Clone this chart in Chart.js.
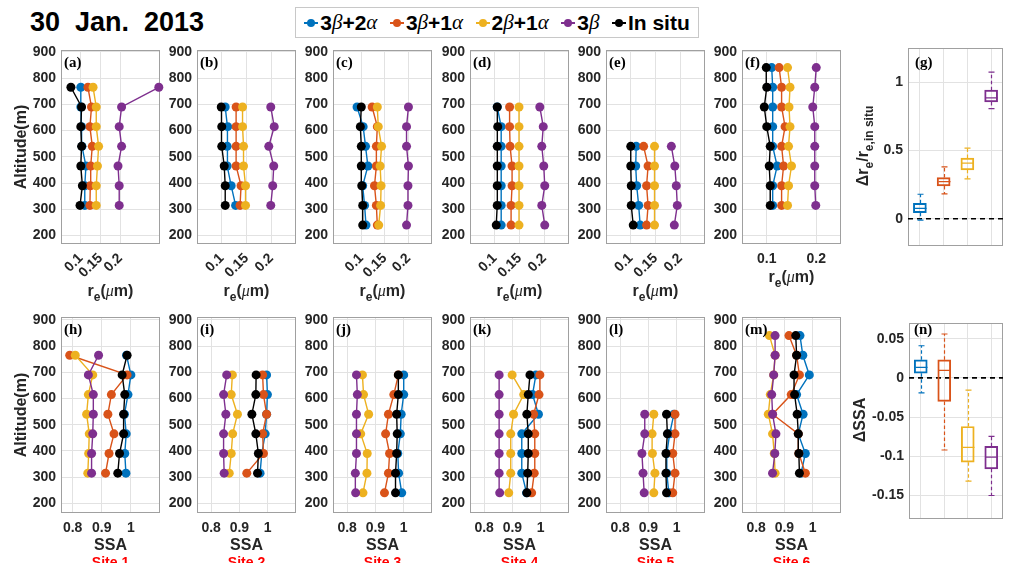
<!DOCTYPE html>
<html>
<head>
<meta charset="utf-8">
<script src="https://cdn.jsdelivr.net/npm/chart.js@4.4.1/dist/chart.umd.min.js"></script>
<style>
  body { margin: 0; width: 1009px; height: 563px; background: #fff; position: relative; overflow: hidden;
         font-family: "Liberation Sans", Arial, sans-serif; }
  canvas { position: absolute; }
  .txt { position: absolute; white-space: nowrap; font-weight: bold; color: #262626; line-height: 1; }
  .ctr { transform: translate(-50%, -50%); }
  .rot { transform: translate(-50%, -50%) rotate(-90deg); }
  .letter { font-family: "Liberation Serif", "Times New Roman", serif; font-size: 15px; color: #000; }
  .site { color: #ff0000; font-size: 14px; }
  .gk { font-family: "Liberation Serif", serif; font-style: italic; font-weight: normal; }
  #title { left: 30px; top: 9px; font-size: 27px; color: #000; }
  #legend { position: absolute; left: 295px; top: 7px; width: 404px; height: 31px; border: 1px solid #c8c8c8;
            display: flex; align-items: center; justify-content: space-around; font-weight: bold;
            font-size: 21px; color: #000; box-sizing: border-box; padding: 0 2px; }
  .item { display: flex; align-items: center; }
  .mk { position: relative; width: 14px; height: 10px; margin-right: 2px; }
  .mk::before { content: ""; position: absolute; left: 0; right: 0; top: 4px; height: 2px; background: var(--c); }
  .mk::after { content: ""; position: absolute; left: 3px; top: 1px; width: 8px; height: 8px; border-radius: 50%; background: var(--c); }
</style>
</head>
<body>
<div class="txt" id="title">30&nbsp; Jan.&nbsp; 2013</div>
<div id="legend"></div>
<script>
// series shared by every panel
const seriesNames = ['3β+2α', '3β+1α', '2β+1α', '3β', 'In situ'];
const seriesColors = ['#0072BD', '#D95319', '#EDB120', '#7E2F8E', '#000000'];

// altitude levels (m) per site
const alt1 = [315, 390, 465, 540, 615, 690, 765];
const alt2 = [315, 390, 465, 540, 615, 690];
const alt3 = [240, 315, 390, 465, 540, 615, 690];
const alt4 = [240, 315, 390, 465, 540, 615, 690];
const alt5 = [240, 315, 390, 465, 540];
const alt6 = [315, 390, 465, 540, 615, 690, 765, 840];

// effective radius (um), rows in seriesNames order
const re1 = [
  [0.110, 0.110, 0.113, 0.103, 0.102, 0.100, 0.100],
  [0.123, 0.124, 0.125, 0.129, 0.123, 0.127, 0.118],
  [0.139, 0.139, 0.142, 0.145, 0.139, 0.139, 0.131],
  [0.197, 0.197, 0.194, 0.203, 0.197, 0.203, 0.297],
  [0.098, 0.104, 0.100, 0.102, 0.100, 0.102, 0.075]
];
const re2 = [
  [0.128, 0.119, 0.111, 0.111, 0.112, 0.107],
  [0.137, 0.139, 0.129, 0.129, 0.129, 0.129],
  [0.148, 0.148, 0.144, 0.144, 0.142, 0.142],
  [0.199, 0.203, 0.205, 0.195, 0.206, 0.199],
  [0.107, 0.107, 0.105, 0.100, 0.100, 0.099]
];
const re3 = [
  [0.110, 0.107, 0.103, 0.114, 0.109, 0.104, 0.091],
  [0.134, 0.132, 0.128, 0.132, 0.132, 0.134, 0.123],
  [0.137, 0.141, 0.142, 0.140, 0.143, 0.136, 0.134],
  [0.196, 0.199, 0.199, 0.200, 0.196, 0.196, 0.200],
  [0.103, 0.103, 0.101, 0.100, 0.100, 0.098, 0.100]
];
const re4 = [
  [0.113, 0.113, 0.113, 0.113, 0.113, 0.113, 0.105],
  [0.133, 0.133, 0.135, 0.135, 0.131, 0.130, 0.130],
  [0.149, 0.149, 0.149, 0.149, 0.149, 0.149, 0.149],
  [0.201, 0.195, 0.201, 0.199, 0.195, 0.198, 0.191],
  [0.103, 0.105, 0.105, 0.105, 0.105, 0.106, 0.105]
];
const re5 = [
  [0.119, 0.116, 0.112, 0.110, 0.111],
  [0.132, 0.135, 0.132, 0.135, 0.126],
  [0.148, 0.148, 0.148, 0.148, 0.148],
  [0.188, 0.194, 0.192, 0.189, 0.182],
  [0.105, 0.101, 0.101, 0.100, 0.100]
];
const re6 = [
  [0.112, 0.112, 0.121, 0.112, 0.112, 0.112, 0.112, 0.110],
  [0.130, 0.130, 0.134, 0.130, 0.137, 0.130, 0.130, 0.125],
  [0.142, 0.144, 0.150, 0.144, 0.147, 0.145, 0.147, 0.142],
  [0.199, 0.197, 0.197, 0.197, 0.197, 0.193, 0.197, 0.200],
  [0.107, 0.107, 0.105, 0.107, 0.100, 0.095, 0.100, 0.099]
];

// single scattering albedo, rows in seriesNames order
const ssa1 = [
  [0.983, 0.979, 0.984, 0.978, 0.990, 1.000, 0.985],
  [0.913, 0.925, 0.942, 0.921, 0.933, 0.987, 0.790],
  [0.852, 0.855, 0.857, 0.848, 0.854, 0.869, 0.809],
  [0.865, 0.865, 0.869, 0.871, 0.871, 0.854, 0.889],
  [0.955, 0.961, 0.975, 0.975, 0.979, 0.970, 0.987]
];
const ssa2 = [
  [0.973, 0.979, 0.991, 0.996, 0.999, 0.996],
  [0.926, 0.985, 0.982, 0.996, 0.985, 0.982],
  [0.864, 0.871, 0.876, 0.893, 0.871, 0.875],
  [0.846, 0.844, 0.844, 0.852, 0.844, 0.855],
  [0.964, 0.967, 0.958, 0.944, 0.958, 0.959]
];
const ssa3 = [
  [0.993, 0.982, 0.979, 0.988, 0.991, 1.000, 1.000],
  [0.932, 0.946, 0.950, 0.936, 0.946, 0.965, 0.981],
  [0.856, 0.870, 0.871, 0.848, 0.876, 0.858, 0.854],
  [0.830, 0.829, 0.833, 0.833, 0.833, 0.836, 0.833],
  [0.971, 0.971, 0.975, 0.977, 0.975, 0.981, 0.981]
];
const ssa4 = [
  [0.950, 0.933, 0.933, 0.933, 0.992, 0.971, 0.983],
  [0.968, 0.977, 0.979, 0.979, 0.975, 0.994, 0.997],
  [0.887, 0.894, 0.894, 0.894, 0.904, 0.940, 0.899],
  [0.855, 0.853, 0.853, 0.853, 0.853, 0.853, 0.853],
  [0.951, 0.954, 0.956, 0.956, 0.951, 0.956, 0.962]
];
const ssa5 = [
  [0.972, 0.965, 0.965, 0.975, 0.990],
  [0.986, 0.994, 0.986, 0.994, 0.994],
  [0.919, 0.923, 0.914, 0.913, 0.919],
  [0.885, 0.881, 0.877, 0.887, 0.887],
  [0.964, 0.962, 0.962, 0.967, 0.964]
];
const ssa6 = [
  [0.959, 0.974, 0.949, 0.966, 0.943, 0.988, 0.965, 0.955],
  [0.974, 0.951, 0.949, 0.858, 0.924, 0.953, 0.943, 0.916],
  [0.867, 0.864, 0.858, 0.843, 0.850, 0.862, 0.867, 0.847],
  [0.858, 0.866, 0.870, 0.858, 0.855, 0.862, 0.867, 0.867],
  [0.953, 0.951, 0.949, 0.945, 0.936, 0.934, 0.943, 0.940]
];

// box statistics of the relative re difference, one entry per retrieval
const reBoxLow  = [-0.010, 0.181, 0.292, 0.806];
const reBoxQ1   = [0.044, 0.240, 0.358, 0.855];
const reBoxMed  = [0.076, 0.272, 0.407, 0.885];
const reBoxQ3   = [0.113, 0.301, 0.444, 0.941];
const reBoxHigh = [0.179, 0.380, 0.517, 1.074];

// box statistics of the SSA difference
const ssaBoxLow  = [-0.019, -0.092, -0.1316, -0.150];
const ssaBoxQ1   = [0.006, -0.030, -0.1076, -0.116];
const ssaBoxMed  = [0.0135, 0.0097, -0.0886, -0.101];
const ssaBoxQ3   = [0.023, 0.023, -0.062, -0.0873];
const ssaBoxHigh = [0.041, 0.056, -0.0156, -0.0747];

// tick labels
const altTicks = [200, 300, 400, 500, 600, 700, 800, 900];
const reTicks = [0.1, 0.15, 0.2];
const reTicksWide = [0.1, 0.2];
const ssaTicks = [0.8, 0.9, 1];
const reBoxTicks = [0, 0.5, 1];
const ssaBoxTicks = [-0.15, -0.1, -0.05, 0, 0.05];

// ---- layout ----
const PADL = 58, PADT = 8, PADR = 8, PADB = 72;
const colLeft = [61, 197, 333, 470, 606, 742];
const PW = 99;
const topRow = {top: 50, h: 194, min: 168, max: 907};
const botRow = {top: 317, h: 196, min: 163, max: 911};

const tickFont = {family: 'Liberation Sans', size: 14, weight: 'bold'};
const gridOpts = {color: '#e2e2e2', lineWidth: 1, drawTicks: false};

function addCanvas(left, top, w, h) {
  const c = document.createElement('canvas');
  c.width = PADL + w + PADR;
  c.height = PADT + h + PADB;
  c.style.left = (left - PADL) + 'px';
  c.style.top = (top - PADT) + 'px';
  document.body.appendChild(c);
  return c;
}

function addText(html, x, y, cls) {
  const d = document.createElement('div');
  d.className = 'txt ' + cls;
  d.style.left = x + 'px';
  d.style.top = y + 'px';
  d.innerHTML = html;
  document.body.appendChild(d);
  return d;
}

// axes box around the plot area
const frame = {
  id: 'frame',
  beforeDatasetsDraw(chart) {
    const a = chart.chartArea, ctx = chart.ctx;
    ctx.save();
    ctx.strokeStyle = '#a0a0a0';
    ctx.lineWidth = 1;
    ctx.strokeRect(Math.round(a.left) + 0.5, Math.round(a.top) + 0.5,
                   Math.round(a.right - a.left) - 1, Math.round(a.bottom - a.top) - 1);
    ctx.restore();
  }
};

function fixedTicks(list) {
  return s => { s.ticks = list.map(v => ({value: v})); };
}

function yAxis(min, max, ticks) {
  return {
    type: 'linear', min: min, max: max,
    afterBuildTicks: fixedTicks(ticks),
    afterFit: s => { s.width = PADL; s.paddingTop = 0; s.paddingBottom = 0; },
    grid: gridOpts, border: {display: false},
    ticks: {font: tickFont, color: '#262626', padding: 5, autoSkip: false, callback: v => String(v)}
  };
}

function profileChart(left, row, alts, values, xMin, xMax, xTicks, rot) {
  const canvas = addCanvas(left, row.top, PW, row.h);
  new Chart(canvas, {
    type: 'scatter',
    data: {
      datasets: values.map((vals, i) => ({
        label: seriesNames[i],
        data: vals.map((v, k) => ({x: v, y: alts[k]})),
        showLine: true,
        borderColor: seriesColors[i],
        backgroundColor: seriesColors[i],
        borderWidth: 1.4,
        pointRadius: 4.5,
        pointHoverRadius: 4.5,
        pointBorderWidth: 0,
        order: values.length - i,
        clip: false
      }))
    },
    options: {
      responsive: false, animation: false, events: [],
      layout: {padding: {left: 0, top: PADT, right: PADR, bottom: 0}},
      plugins: {legend: {display: false}, tooltip: {enabled: false}},
      scales: {
        x: {
          type: 'linear', min: xMin, max: xMax,
          afterBuildTicks: fixedTicks(xTicks),
          afterFit: s => { s.height = PADB; s.paddingLeft = 0; s.paddingRight = 0; },
          grid: gridOpts, border: {display: false},
          ticks: {font: tickFont, color: '#262626', padding: rot ? 6 : 7, autoSkip: false,
                  minRotation: rot, maxRotation: rot, callback: v => String(v)}
        },
        y: yAxis(row.min, row.max, altTicks)
      }
    },
    plugins: [frame]
  });
}

// whiskers, medians and the dashed zero line of the box panels
function boxDecor(low, med, high) {
  return {
    id: 'boxDecor',
    beforeDatasetsDraw(chart) {
      const a = chart.chartArea, ctx = chart.ctx, y0 = chart.scales.y.getPixelForValue(0);
      ctx.save();
      ctx.strokeStyle = '#000';
      ctx.lineWidth = 1.6;
      ctx.setLineDash([5, 4]);
      ctx.beginPath();
      ctx.moveTo(a.left, y0);
      ctx.lineTo(a.right, y0);
      ctx.stroke();
      ctx.restore();
    },
    afterDatasetsDraw(chart) {
      const ctx = chart.ctx, xs = chart.scales.x, ys = chart.scales.y;
      const ds = chart.data.datasets[0];
      ctx.save();
      ctx.lineWidth = 1.2;
      ds.data.forEach((q, i) => {
        const x = Math.round(xs.getPixelForValue(i)) + 0.5;
        const yq1 = ys.getPixelForValue(q[0]), yq3 = ys.getPixelForValue(q[1]);
        const ylo = ys.getPixelForValue(low[i]), yhi = ys.getPixelForValue(high[i]);
        const ym = ys.getPixelForValue(med[i]);
        ctx.strokeStyle = seriesColors[i];
        ctx.setLineDash([3.5, 2.5]);
        ctx.beginPath();
        ctx.moveTo(x, yq3); ctx.lineTo(x, yhi);
        ctx.moveTo(x, yq1); ctx.lineTo(x, ylo);
        ctx.stroke();
        ctx.setLineDash([]);
        ctx.beginPath();
        ctx.moveTo(x - 3, yhi); ctx.lineTo(x + 3, yhi);
        ctx.moveTo(x - 3, ylo); ctx.lineTo(x + 3, ylo);
        ctx.moveTo(x - 6, ym); ctx.lineTo(x + 6, ym);
        ctx.stroke();
      });
      ctx.restore();
    }
  };
}

function boxChart(left, top, w, h, low, q1, med, q3, high, yMin, yMax, yTicks) {
  const canvas = addCanvas(left, top, w, h);
  new Chart(canvas, {
    type: 'bar',
    data: {
      labels: ['1', '2', '3', '4'],
      datasets: [{
        data: q1.map((v, i) => [v, q3[i]]),
        backgroundColor: 'rgba(0,0,0,0)',
        borderColor: seriesColors.slice(0, 4),
        borderWidth: 1.3,
        borderSkipped: false,
        barThickness: 13
      }]
    },
    options: {
      responsive: false, animation: false, events: [],
      layout: {padding: {left: 0, top: PADT, right: PADR, bottom: 0}},
      plugins: {legend: {display: false}, tooltip: {enabled: false}},
      scales: {
        x: {
          afterFit: s => { s.height = PADB; s.paddingLeft = 0; s.paddingRight = 0; },
          grid: {color: '#e2e2e2', lineWidth: 1, drawTicks: false, offset: false},
          border: {display: false},
          ticks: {display: false}
        },
        y: yAxis(yMin, yMax, yTicks)
      }
    },
    plugins: [frame, boxDecor(low, med, high)]
  });
}

// ---- top row: effective radius, bottom row: SSA ----
const reSets = [re1, re2, re3, re4, re5, re6];
const ssaSets = [ssa1, ssa2, ssa3, ssa4, ssa5, ssa6];
const altSets = [alt1, alt2, alt3, alt4, alt5, alt6];
const reRange = [[0.05, 0.3], [0.05, 0.25], [0.04, 0.25], [0.05, 0.25], [0.05, 0.25], [0.05, 0.25]];
const topLetters = ['(a)', '(b)', '(c)', '(d)', '(e)', '(f)'];
const botLetters = ['(h)', '(i)', '(j)', '(k)', '(l)', '(m)'];

for (let i = 0; i < 6; i++) {
  const last = i === 5;
  profileChart(colLeft[i], topRow, altSets[i], reSets[i], reRange[i][0], reRange[i][1],
               last ? reTicksWide : reTicks, last ? 0 : 45);
  profileChart(colLeft[i], botRow, altSets[i], ssaSets[i], i === 0 ? 0.76 : 0.75, 1.1, ssaTicks, 0);

  const cx = colLeft[i] + PW / 2;
  addText('r<sub style="font-size:12px">e</sub>(<span class="gk">μ</span>m)', cx, last ? 279 : 293, 'ctr').style.fontSize = '16px';
  addText('SSA', cx, 545, 'ctr').style.fontSize = '16px';
  addText('Site ' + (i + 1), cx, 562, 'ctr site');
  addText(topLetters[i], colLeft[i] + 3, topRow.top + 5, 'letter');
  addText(botLetters[i], colLeft[i] + 3, botRow.top + 5, 'letter');
}

// ---- right column: box plots ----
boxChart(908, 48, 95, 198, reBoxLow, reBoxQ1, reBoxMed, reBoxQ3, reBoxHigh, -0.2, 1.25, reBoxTicks);
boxChart(909, 323, 94, 196, ssaBoxLow, ssaBoxQ1, ssaBoxMed, ssaBoxQ3, ssaBoxHigh, -0.18, 0.07, ssaBoxTicks);
addText('(g)', 915, 55, 'letter');
addText('(n)', 914, 322, 'letter');

// axis titles
addText('Altitude(m)', 21, 147, 'rot').style.fontSize = '16px';
addText('Altitude(m)', 21, 415, 'rot').style.fontSize = '16px';
addText('Δr<sub style="font-size:12px">e</sub>/r<sub style="font-size:12px">e,in situ</sub>', 865, 146, 'rot').style.fontSize = '16px';
addText('ΔSSA', 860, 420, 'rot').style.fontSize = '16px';

// legend
const legend = document.getElementById('legend');
seriesNames.forEach((name, i) => {
  const item = document.createElement('span');
  item.className = 'item';
  const label = name.replace(/([βα])/g, '<span class="gk">$1</span>');
  item.innerHTML = '<span class="mk" style="--c:' + seriesColors[i] + '"></span>' + label;
  legend.appendChild(item);
});
</script>
</body>
</html>
